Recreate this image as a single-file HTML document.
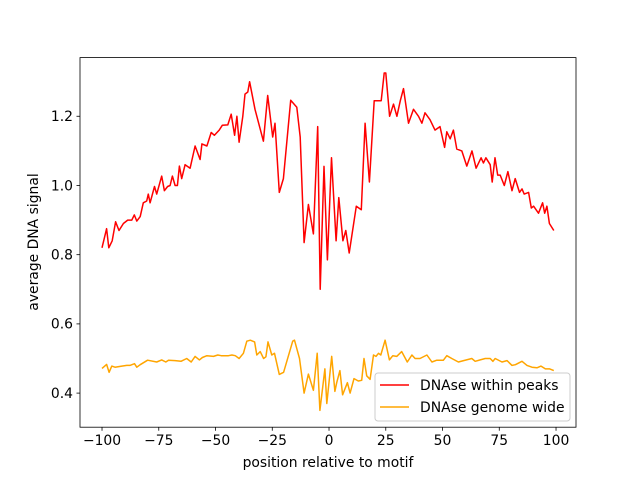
<!DOCTYPE html>
<html><head><meta charset="utf-8"><style>
body{margin:0;background:#fff}
svg text{font-family:"DejaVu Sans","Liberation Sans",sans-serif;fill:#000}
</style></head><body>
<svg id="chart" width="640" height="480">
<rect width="640" height="480" fill="#fff"/>
<g id="plot"></g>
<rect x="80" y="57.6" width="496" height="369.6" fill="none" stroke="#000" stroke-width="0.8"/>
<g id="xt"></g><g id="yt"></g>
<text x="328" y="467" text-anchor="middle" font-size="13.9">position relative to motif</text>
<text transform="translate(38,242) rotate(-90)" text-anchor="middle" font-size="13.9">average DNA signal</text>
<g>
<rect x="375" y="373" width="195" height="48" rx="3" fill="#fff" fill-opacity="0.8" stroke="#ccc" stroke-width="1"/>
<line x1="380" y1="385" x2="409" y2="385" stroke="red" stroke-width="1.5"/>
<text x="420" y="390" font-size="13.9">DNAse within peaks</text>
<line x1="380" y1="407" x2="409" y2="407" stroke="orange" stroke-width="1.5"/>
<text x="420" y="412" font-size="13.9">DNAse genome wide</text>
</g>
</svg>
<script>
const redX=[-100,-98,-97,-95.5,-94,-92.5,-90.6,-88.7,-86.9,-85.8,-84.7,-83.2,-81.8,-80.3,-79.6,-78.8,-76.9,-75.9,-73.7,-72.5,-71.1,-70,-69,-67.8,-66.8,-65.9,-64.9,-63.4,-61.2,-59,-56.8,-56,-53.8,-51.9,-50.5,-48.4,-47,-44.6,-43.1,-41.6,-40.6,-39.6,-38,-37,-35.8,-35,-32.6,-28.9,-27,-24.8,-23.8,-21.9,-20.1,-16.9,-14.2,-12.7,-11,-9.1,-6.9,-5,-3.9,-2.2,-0.7,1.1,3.1,4.3,6.1,7.4,8.9,12,14.2,15.9,17.8,19.9,23,24.3,25,26.7,28.4,29.9,31.4,32.8,35,37.2,39.4,40.9,42.3,44.5,46.7,48.9,50.9,51.9,53.4,54.8,56.3,58.5,60.7,63,64.8,67,68,69.1,71,71.9,73.1,74.3,75.4,77.2,78.8,80.6,82,83.9,85,86,87.9,89.1,90.1,92.3,94.1,95,96,97.1,99];
const redY=[0.82,0.875,0.82,0.84,0.895,0.87,0.89,0.9,0.9,0.915,0.897,0.91,0.95,0.955,0.975,0.95,0.997,0.975,1.027,0.985,0.997,1.0,1.027,1.0,1.0,1.056,1.02,1.06,1.05,1.114,1.075,1.12,1.114,1.153,1.145,1.16,1.174,1.175,1.206,1.145,1.2,1.125,1.2,1.264,1.27,1.3,1.22,1.128,1.26,1.14,1.18,0.98,1.02,1.246,1.226,1.14,0.835,0.945,0.86,1.17,0.7,1.055,0.785,1.08,0.84,0.965,0.84,0.87,0.805,0.94,0.93,1.18,1.01,1.245,1.245,1.325,1.325,1.2,1.235,1.2,1.245,1.28,1.18,1.22,1.2,1.18,1.21,1.19,1.16,1.17,1.11,1.155,1.135,1.16,1.105,1.1,1.056,1.1,1.05,1.08,1.065,1.08,1.06,1.01,1.08,1.03,1.03,1.0,1.04,0.985,1.02,0.98,0.99,0.975,0.98,0.935,0.94,0.92,0.95,0.92,0.94,0.89,0.87,0.865];
const orX=[-100,-98,-96.9,-95.7,-94.3,-91.3,-89.1,-87.7,-85.7,-84.7,-83.2,-79.9,-75.9,-73.7,-71.9,-70.7,-67.8,-65.2,-62.7,-60.7,-59,-57.1,-55.8,-53.8,-50.9,-49,-47.5,-44.3,-42.8,-41.3,-39.6,-37.7,-36.2,-34.7,-32.8,-31.8,-30.3,-28.8,-27.8,-26.9,-25.2,-24,-21.9,-20,-16,-15.2,-13,-11,-9.1,-6.9,-5.2,-4,-1.8,-1,1.2,2.6,3.4,4.8,6,8.1,9.3,11,12.9,14.4,15.4,16.6,18.1,19.6,20.7,21.8,22.8,24.7,26.6,28.1,29.8,32,34.5,36.5,37.9,40.1,43.1,45.3,47.5,50.4,51.9,54.1,57,59.3,62.9,64.4,66.6,68.8,71,72.2,73.2,76.2,78.4,80.6,82.1,85,87.2,89.4,91.6,93.4,95.3,97.2,99];
const orY=[0.4715,0.483,0.46,0.478,0.475,0.478,0.48,0.48,0.485,0.475,0.482,0.495,0.49,0.496,0.49,0.495,0.494,0.492,0.5,0.49,0.506,0.496,0.503,0.508,0.506,0.51,0.508,0.508,0.51,0.508,0.5,0.515,0.55,0.553,0.548,0.51,0.52,0.5,0.505,0.548,0.51,0.515,0.454,0.46,0.55,0.553,0.5,0.4,0.455,0.408,0.515,0.35,0.47,0.37,0.506,0.405,0.43,0.465,0.395,0.43,0.4,0.442,0.435,0.437,0.5,0.45,0.44,0.51,0.506,0.515,0.51,0.553,0.496,0.508,0.506,0.52,0.49,0.51,0.5,0.5,0.51,0.49,0.495,0.495,0.508,0.5,0.49,0.494,0.5,0.492,0.496,0.5,0.5,0.492,0.5,0.49,0.494,0.48,0.482,0.492,0.48,0.475,0.473,0.478,0.47,0.47,0.465];
const xTicks=[-100,-75,-50,-25,0,25,50,75,100];
const yTicks=[0.4,0.6,0.8,1.0,1.2];
const NS='http://www.w3.org/2000/svg';
function sx(v){return 80+(v+109.7)/(218.5)*496;}
function sy(v){return 427.2-(v-0.3015)/(1.3695-0.3015)*369.6;}
function el(t,a,p){const e=document.createElementNS(NS,t);for(const k in a)e.setAttribute(k,a[k]);p.appendChild(e);return e;}
const plot=document.getElementById('plot');
function line(xs,ys,c,name){
  const d=xs.map((x,i)=>(i?'L':'M')+sx(x).toFixed(1)+' '+sy(ys[i]).toFixed(1)).join(' ');
  const p=el('path',{d:d,fill:'none',stroke:c,'stroke-width':1.5,'stroke-linejoin':'round'},plot);
  
  
}
line(redX,redY,'red','series-within-peaks');
line(orX,orY,'orange','series-genome-wide');
const xt=document.getElementById('xt');
xTicks.forEach(v=>{
  const x=sx(v);
  const l=el('line',{x1:x,x2:x,y1:427.2,y2:430.7,stroke:'#000','stroke-width':0.8},xt);
  
  
  const t=el('text',{x:x,y:445,'text-anchor':'middle','font-size':13.9},xt);
  t.textContent=(v<0?'\u2212'+(-v):v);
  
  
});
const yt=document.getElementById('yt');
yTicks.forEach(v=>{
  const y=sy(v);
  const l=el('line',{x1:76.5,x2:80,y1:y,y2:y,stroke:'#000','stroke-width':0.8},yt);
  
  
  const t=el('text',{x:73,y:y+4.8,'text-anchor':'end','font-size':13.9},yt);
  t.textContent=v.toFixed(1);
  
  
});
</script>
</body></html>
